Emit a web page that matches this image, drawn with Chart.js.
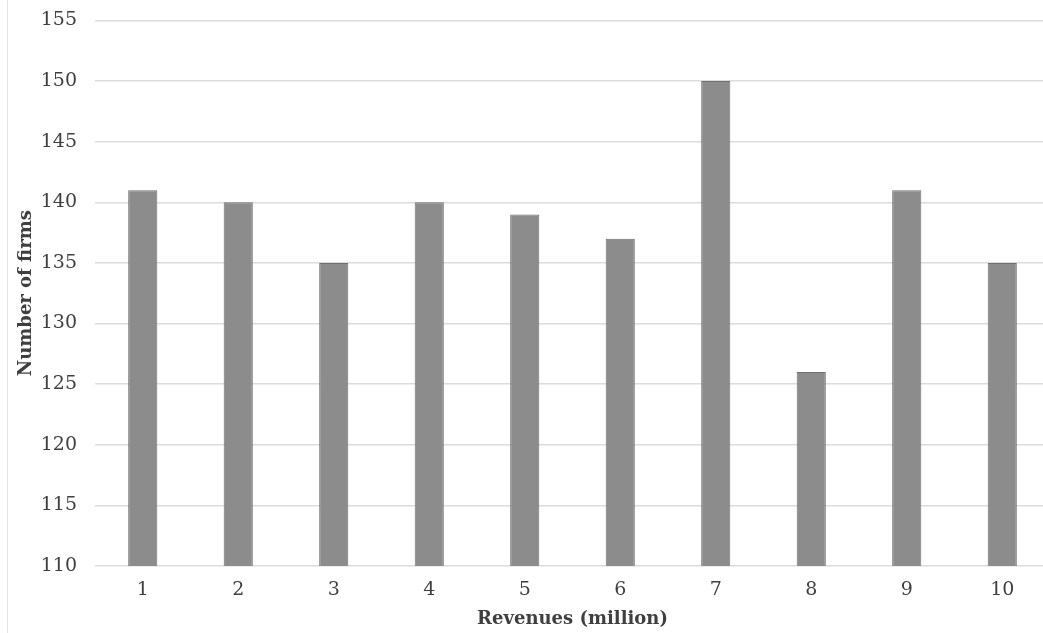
<!DOCTYPE html>
<html>
<head>
<meta charset="utf-8">
<script src="https://cdn.jsdelivr.net/npm/chart.js@4/dist/chart.umd.min.js"></script>
<style>
  html, body { margin: 0; padding: 0; background: #fff; overflow: hidden; }
  #frame { position: absolute; left: 7px; top: 0; width: 1px; height: 633px; background: #e4e4e4; }
  #wrap { position: absolute; left: 0; top: -9px; width: 1050px; height: 642px; }
</style>
</head>
<body>
<div id="wrap"><canvas id="chart"></canvas></div>
<div id="frame"></div>
<script>
// Number of firms per revenue bucket (million)
const categories = ['1', '2', '3', '4', '5', '6', '7', '8', '9', '10'];
const firmCounts = [141, 140, 135, 140, 139, 137, 150, 126, 141, 135];
const yMin = 110;
const yMax = 155;
const yStep = 5;

const textColor = '#3f3f3f';
const serif = "'DejaVu Serif', 'Liberation Serif', serif";

new Chart(document.getElementById('chart').getContext('2d'), {
    type: 'bar',
    data: {
        labels: categories,
        datasets: [{
            label: 'Number of firms',
            data: firmCounts,
            backgroundColor: '#8c8c8c',
            borderColor: '#6f6f6f',
            borderWidth: 1,
            borderSkipped: 'bottom',
            barPercentage: 1,
            categoryPercentage: 0.305
        }]
    },
    options: {
        responsive: true,
        maintainAspectRatio: false,
        animation: false,
        layout: { padding: { left: 16, right: 0, top: -8, bottom: 3 } },
        plugins: {
            legend: { display: false },
            tooltip: { enabled: false }
        },
        scales: {
            x: {
                grid: { display: false },
                border: { display: false },
                ticks: {
                    color: textColor,
                    font: { family: serif, size: 19 },
                    padding: 5
                },
                title: {
                    display: true,
                    text: 'Revenues (million)',
                    color: textColor,
                    font: { family: serif, size: 18, weight: 'bold' },
                    padding: { top: 5, bottom: 0 }
                },
                // keep the axis band tight under the plot
                afterFit: (scale) => { scale.height = 64; }
            },
            y: {
                min: yMin,
                max: yMax,
                grid: {
                    color: '#dcdcdc',
                    lineWidth: 1.5,
                    drawTicks: false
                },
                border: { display: false },
                ticks: {
                    stepSize: yStep,
                    color: textColor,
                    font: { family: serif, size: 19 },
                    padding: 18
                },
                title: {
                    display: true,
                    text: 'Number of firms',
                    color: textColor,
                    font: { family: serif, size: 18, weight: 'bold' },
                    padding: { top: 0, bottom: 4 }
                },
                afterFit: (scale) => { scale.width = 79; }
            }
        }
    }
});
</script>
</body>
</html>
